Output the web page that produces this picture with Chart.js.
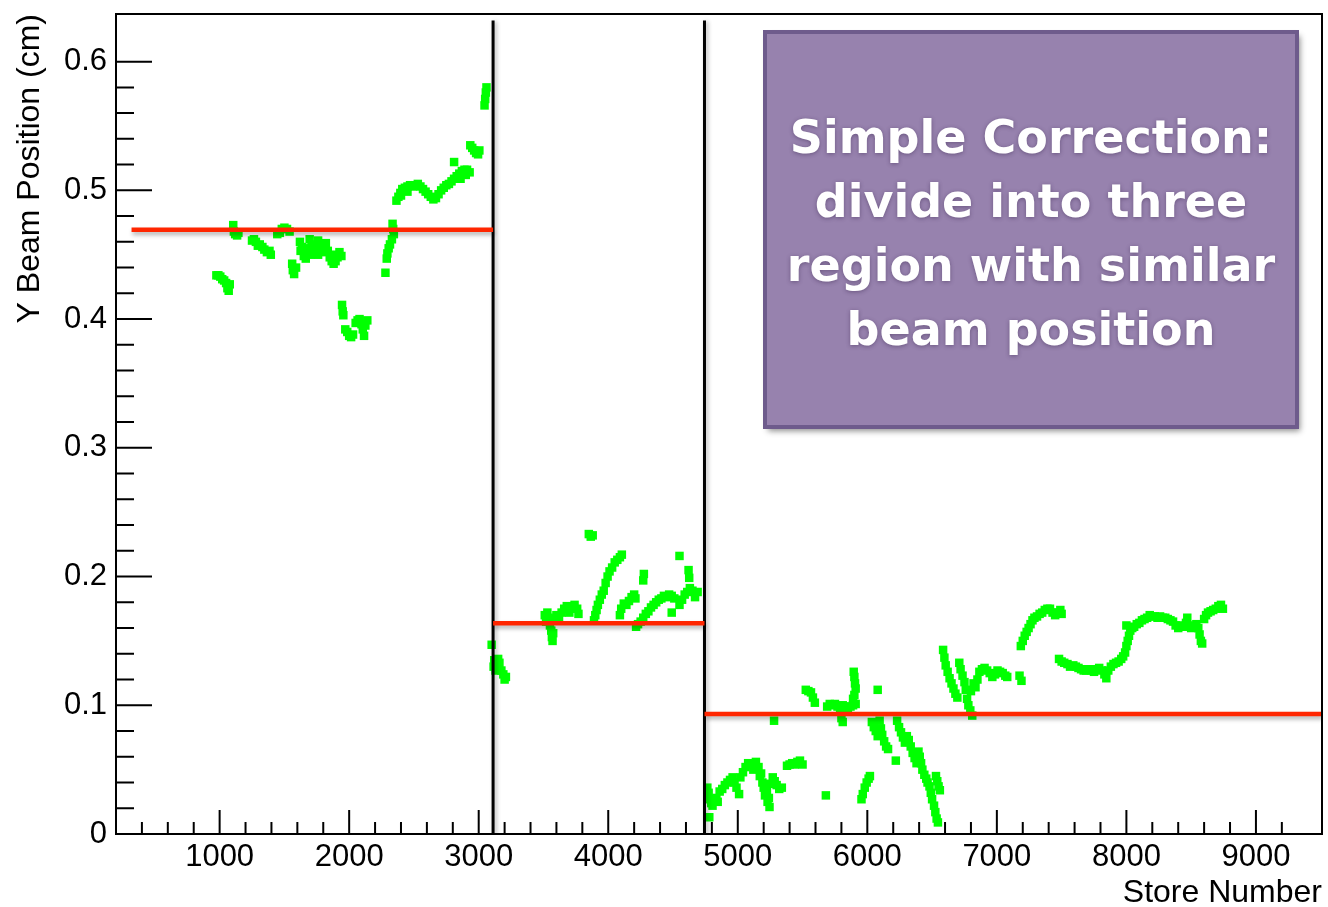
<!DOCTYPE html>
<html>
<head>
<meta charset="utf-8">
<script src="https://cdn.jsdelivr.net/npm/chart.js@4.4.1/dist/chart.umd.min.js"></script>
<style>
  html, body { margin: 0; padding: 0; background: #fff; }
  canvas { display: block; }
</style>
</head>
<body>
<canvas id="beam" width="1328" height="907"></canvas>
<script>
// store ranges with a similar beam position, and the mean used for each
const regionEdges = [320, 3111, 4743, 9510];
const regionMeans = [0.4694, 0.1638, 0.0933];
const dividerStores = [3111, 4743];
const dividerTop = 0.632;

// [store number, y beam position (cm)]
const region1 = [
  [975,0.434],[990,0.434],[1005,0.433],[1020,0.431],[1035,0.430],[1050,0.428],[1060,0.424],[1070,0.422],[1078,0.427],
  [1105,0.473],[1110,0.468],[1120,0.466],[1135,0.465],[1145,0.467],
  [1250,0.461],[1265,0.462],[1280,0.460],[1295,0.457],[1310,0.458],[1330,0.456],[1345,0.454],[1365,0.452],[1385,0.453],[1395,0.450],
  [1445,0.466],[1465,0.467],[1480,0.470],[1500,0.471],[1520,0.470],[1540,0.468],
  [1560,0.443],[1565,0.438],[1575,0.435],[1590,0.440],
  [1620,0.460],[1625,0.453],[1635,0.456],[1650,0.449],[1665,0.447],[1680,0.455],[1695,0.462],[1710,0.457],[1725,0.453],
  [1740,0.458],[1760,0.461],[1775,0.455],[1790,0.452],[1805,0.456],[1820,0.459],[1835,0.453],[1850,0.448],[1865,0.445],
  [1880,0.443],[1895,0.445],[1910,0.448],[1925,0.452],[1940,0.449],[1700,0.450],[1760,0.450],[1880,0.450],
  [1945,0.411],[1950,0.406],[1955,0.403],
  [1970,0.392],[1985,0.390],[2000,0.387],[2015,0.386],[2030,0.388],[2050,0.397],[2065,0.399],[2080,0.400],[2095,0.396],
  [2105,0.392],[2115,0.387],[2125,0.395],[2140,0.399],
  [2280,0.436],
  [2290,0.447],[2295,0.451],[2305,0.455],[2315,0.458],[2330,0.462],[2345,0.466],[2335,0.474],[2340,0.470],
  [2365,0.492],[2380,0.495],[2395,0.498],[2410,0.501],[2430,0.502],[2450,0.503],[2470,0.504],[2490,0.503],[2510,0.504],
  [2530,0.505],[2550,0.503],[2570,0.501],[2590,0.499],[2610,0.497],[2630,0.495],[2650,0.493],[2670,0.494],[2690,0.497],
  [2710,0.500],[2730,0.502],[2750,0.504],[2770,0.505],[2790,0.507],[2810,0.509],[2830,0.511],[2850,0.513],[2870,0.515],
  [2890,0.516],[2910,0.516],[2930,0.514],[2810,0.522],[2400,0.496],[2450,0.499],[2860,0.509],[2900,0.512],
  [2935,0.535],[2950,0.533],[2965,0.531],[2980,0.529],[2995,0.528],[3005,0.531],
  [3045,0.566],[3050,0.571],[3055,0.576],[3060,0.580]
];

const region2 = [
  [3100,0.147],
  [3115,0.130],[3120,0.135],[3130,0.127],[3140,0.132],[3150,0.136],[3160,0.133],[3175,0.127],[3190,0.124],[3200,0.120],[3210,0.122],
  [3510,0.170],[3520,0.165],[3530,0.172],[3540,0.168],[3550,0.162],[3560,0.158],[3565,0.153],[3570,0.150],[3575,0.156],
  [3580,0.167],[3600,0.170],[3620,0.168],[3640,0.172],[3660,0.175],[3680,0.177],[3700,0.172],[3720,0.176],[3740,0.178],
  [3760,0.175],[3770,0.171],
  [3850,0.233],[3865,0.231],[3880,0.232],
  [3890,0.166],[3900,0.170],[3910,0.174],[3920,0.178],[3935,0.182],[3950,0.186],
  [3965,0.189],[3980,0.195],[3995,0.200],[4010,0.204],[4030,0.207],[4050,0.211],[4070,0.213],[4090,0.215],[4105,0.217],
  [4090,0.170],[4100,0.175],[4120,0.179],[4140,0.178],[4160,0.181],[4180,0.184],[4200,0.186],[4210,0.183],
  [4270,0.197],[4275,0.202],
  [4215,0.161],[4230,0.163],[4250,0.165],[4270,0.168],[4290,0.171],[4310,0.173],[4330,0.176],[4350,0.178],[4370,0.180],
  [4390,0.182],[4410,0.183],[4430,0.185],[4450,0.184],[4470,0.186],[4490,0.185],[4510,0.183],[4490,0.172],
  [4550,0.216],
  [4620,0.205],[4625,0.199],
  [4550,0.178],[4570,0.182],[4590,0.186],[4610,0.188],[4630,0.191],[4650,0.189],[4670,0.184],[4690,0.188]
];

const region3 = [
  [4765,0.036],[4775,0.032],[4785,0.027],[4795,0.024],[4805,0.022],[4820,0.026],[4835,0.028],[4845,0.025],
  [4780,0.013],
  [4860,0.033],[4880,0.035],[4900,0.038],[4920,0.040],[4940,0.042],[4960,0.044],[4975,0.040],[4990,0.036],[5010,0.031],
  [5020,0.044],[5040,0.048],[5060,0.052],[5080,0.055],[5100,0.054],[5120,0.050],[5140,0.056],[5160,0.052],[5180,0.047],
  [5170,0.045],[5190,0.040],[5200,0.036],[5210,0.030],[5230,0.025],[5245,0.021],[5240,0.028],[5225,0.033],
  [5250,0.039],[5270,0.044],[5285,0.041],[5300,0.038],[5320,0.035],[5340,0.036],
  [5380,0.053],[5400,0.054],[5420,0.055],[5440,0.054],[5460,0.056],[5480,0.057],[5500,0.054],
  [5280,0.088],
  [5525,0.112],[5545,0.111],[5565,0.110],[5580,0.106],[5595,0.102],
  [5680,0.030],
  [5690,0.099],[5710,0.101],[5730,0.100],[5750,0.101],[5770,0.099],[5790,0.098],[5810,0.100],[5830,0.099],[5850,0.097],
  [5870,0.099],[5890,0.100],[5910,0.101],
  [5800,0.090],[5810,0.087],[5890,0.105],[5900,0.108],
  [5895,0.126],[5900,0.122],[5905,0.117],[5910,0.113],
  [6080,0.112],
  [5955,0.027],[5965,0.031],[5980,0.036],[5995,0.040],[6010,0.043],[6020,0.045],
  [6035,0.087],[6050,0.083],[6065,0.080],[6080,0.076],[6095,0.088],[6105,0.082],[6115,0.077],[6130,0.072],[6145,0.068],[6160,0.066],
  [6220,0.057],
  [6230,0.088],[6245,0.083],[6260,0.079],[6275,0.075],[6290,0.071],[6305,0.076],[6320,0.073],[6335,0.068],[6350,0.063],
  [6365,0.059],[6380,0.055],[6395,0.064],[6405,0.060],[6415,0.055],[6425,0.050],[6440,0.046],[6455,0.043],[6465,0.040],
  [6530,0.045],[6540,0.041],[6550,0.037],[6560,0.034],
  [6480,0.037],[6490,0.032],[6500,0.027],[6515,0.022],[6525,0.017],[6535,0.012],[6545,0.009],
  [6585,0.143],[6595,0.137],[6605,0.131],[6620,0.126],[6635,0.121],[6650,0.117],[6665,0.113],[6680,0.109],[6695,0.106],
  [6710,0.133],[6720,0.128],[6735,0.123],[6750,0.118],[6760,0.112],[6770,0.105],[6780,0.100],[6795,0.096],[6810,0.092],
  [6800,0.111],[6820,0.117],[6835,0.114],
  [6850,0.120],[6865,0.126],[6885,0.128],[6905,0.129],[6925,0.127],[6945,0.125],[6965,0.122],[6985,0.124],[7005,0.127],
  [7025,0.126],[7045,0.125],[7065,0.123],[7080,0.122],[7175,0.123],[7190,0.119],
  [7185,0.146],[7200,0.150],[7215,0.154],[7230,0.157],[7245,0.160],[7260,0.163],[7275,0.166],[7290,0.168],[7310,0.169],
  [7330,0.171],[7350,0.172],[7370,0.174],[7390,0.175],[7410,0.175],[7430,0.172],[7450,0.170],[7470,0.172],[7490,0.174],[7500,0.171],
  [7480,0.136],[7500,0.134],[7520,0.133],[7545,0.132],[7565,0.130],[7590,0.131],[7610,0.130],[7630,0.129],[7650,0.128],
  [7670,0.127],[7690,0.127],[7710,0.128],[7730,0.127],[7750,0.126],[7770,0.128],[7790,0.129],[7810,0.127],[7830,0.124],
  [7845,0.121],[7860,0.127],[7880,0.130],[7900,0.132],[7920,0.133],[7940,0.134],[7960,0.136],[7975,0.138],[7990,0.141],
  [8000,0.146],[8010,0.150],[8020,0.154],[8030,0.158],[8000,0.162],[8045,0.160],[8060,0.161],[8080,0.163],[8100,0.164],
  [8120,0.166],[8140,0.167],[8160,0.168],[8180,0.170],[8200,0.169],[8220,0.169],[8240,0.168],[8260,0.169],[8280,0.168],
  [8300,0.168],[8320,0.167],[8340,0.166],[8360,0.165],[8380,0.162],[8400,0.160],[8420,0.162],[8440,0.161],[8460,0.164],
  [8470,0.168],[8480,0.162],[8500,0.160],[8520,0.161],[8540,0.163],[8555,0.160],[8565,0.155],[8575,0.150],[8585,0.148],
  [8600,0.167],[8615,0.170],[8630,0.172],[8650,0.173],[8670,0.174],[8690,0.175],[8710,0.177],[8730,0.178],[8745,0.175]
];

const noteLines = ['Simple Correction:', 'divide into three', 'region with similar', 'beam position'];

const toXY = pts => pts.map(([x, y]) => ({x, y}));

const meanLines = regionMeans.map((m, i) => ({
    data: [{x: regionEdges[i], y: m}, {x: regionEdges[i + 1], y: m}],
    showLine: true,
    borderColor: '#ff2600',
    borderWidth: 4.5,
    pointRadius: 0,
    shadow: [1, 3],
    order: 0
}));

const dividers = dividerStores.map(s => ({
    data: [{x: s, y: 0}, {x: s, y: dividerTop}],
    showLine: true,
    borderColor: '#000',
    borderWidth: 3,
    pointRadius: 0,
    shadow: [2, 1],
    order: 0
}));

const points = [region1, region2, region3].map(r => ({
    data: toXY(r),
    pointStyle: 'rect',
    pointRadius: 6,
    backgroundColor: '#00ff00',
    borderWidth: 0,
    order: 1
}));

// soft drop shadow behind the fit and divider lines
const lineShadow = {
    id: 'lineShadow',
    beforeDatasetDraw(chart, args) {
        const ds = chart.data.datasets[args.index];
        if (!ds.shadow) return;
        const ctx = chart.ctx;
        ctx.save();
        ctx.shadowColor = 'rgba(0,0,0,0.3)';
        ctx.shadowBlur = 4;
        ctx.shadowOffsetX = ds.shadow[0];
        ctx.shadowOffsetY = ds.shadow[1];
    },
    afterDatasetDraw(chart, args) {
        if (chart.data.datasets[args.index].shadow) chart.ctx.restore();
    }
};

// ROOT style frame with ticks pointing into the plot
const frameTicks = {
    id: 'frameTicks',
    afterDatasetsDraw(chart) {
        const {ctx, chartArea: a, scales: {x, y}} = chart;
        ctx.save();
        ctx.strokeStyle = '#000';
        ctx.lineWidth = 2;
        ctx.beginPath();
        x.ticks.forEach(t => {
            if (t.value % 200 !== 0) return;
            const px = x.getPixelForValue(t.value);
            const len = t.value % 1000 === 0 ? 24 : 12;
            ctx.moveTo(px, a.bottom);
            ctx.lineTo(px, a.bottom - len);
        });
        y.ticks.forEach(t => {
            const k = Math.round(t.value * 50);
            if (Math.abs(t.value * 50 - k) > 1e-6) return;
            const py = y.getPixelForValue(t.value);
            const len = k % 5 === 0 ? 36 : 18;
            ctx.moveTo(a.left, py);
            ctx.lineTo(a.left + len, py);
        });
        ctx.stroke();
        ctx.strokeRect(a.left, a.top, a.right - a.left, a.bottom - a.top);
        ctx.restore();
    }
};

const noteBox = {
    id: 'noteBox',
    afterDraw(chart) {
        const ctx = chart.ctx;
        const bx = 765, by = 32, bw = 532, bh = 395;
        ctx.save();
        ctx.shadowColor = 'rgba(0,0,0,0.45)';
        ctx.shadowBlur = 6;
        ctx.shadowOffsetX = 3;
        ctx.shadowOffsetY = 4;
        ctx.fillStyle = '#9782ae';
        ctx.fillRect(bx, by, bw, bh);
        ctx.shadowColor = 'transparent';
        ctx.lineWidth = 4;
        ctx.strokeStyle = '#6e5b8c';
        ctx.strokeRect(bx, by, bw, bh);
        ctx.fillStyle = '#fff';
        ctx.font = 'bold 46px "DejaVu Sans"';
        ctx.textAlign = 'center';
        ctx.textBaseline = 'alphabetic';
        ctx.shadowColor = 'rgba(50,30,70,0.45)';
        ctx.shadowBlur = 4;
        ctx.shadowOffsetX = 0;
        ctx.shadowOffsetY = 1;
        noteLines.forEach((s, i) => ctx.fillText(s, bx + bw / 2, 153 + i * 64));
        ctx.restore();
    }
};

const font = {family: '"Liberation Sans", Arial, sans-serif', size: 31};

new Chart(document.getElementById('beam'), {
    type: 'scatter',
    data: {datasets: [...meanLines, ...dividers, ...points]},
    plugins: [lineShadow, frameTicks, noteBox],
    options: {
        responsive: false,
        animation: false,
        events: [],
        layout: {padding: {top: 14, right: 2, left: 0, bottom: 0}},
        scales: {
            x: {
                type: 'linear',
                min: 200,
                max: 9510,
                afterFit: s => { s.height = 73; s.paddingLeft = 0; s.paddingRight = 0; },
                grid: {display: false, drawTicks: false},
                border: {display: false},
                ticks: {
                    stepSize: 200,
                    autoSkip: false,
                    maxRotation: 0,
                    padding: 5,
                    color: '#000',
                    font,
                    callback: v => (v % 1000 === 0 ? String(v) : '')
                },
                title: {
                    display: true,
                    text: 'Store Number',
                    align: 'end',
                    color: '#000',
                    padding: 0,
                    font: {family: font.family, size: 32, lineHeight: 0.875}
                }
            },
            y: {
                type: 'linear',
                min: 0,
                max: 0.637,
                afterFit: s => { s.width = 116; s.paddingTop = 0; s.paddingBottom = 0; },
                grid: {display: false, drawTicks: false},
                border: {display: false},
                ticks: {
                    stepSize: 0.02,
                    autoSkip: false,
                    padding: 9,
                    color: '#000',
                    font,
                    callback: v => {
                        const k = Math.round(v * 50);
                        if (Math.abs(v * 50 - k) > 1e-6 || k % 5 !== 0) return '';
                        return String(k / 50);
                    }
                },
                title: {
                    display: true,
                    text: 'Y Beam Position (cm)',
                    align: 'end',
                    color: '#000',
                    padding: {top: 11, bottom: 0},
                    font: {family: font.family, size: 32}
                }
            }
        },
        plugins: {
            legend: {display: false},
            tooltip: {enabled: false}
        }
    }
});
</script>
</body>
</html>
